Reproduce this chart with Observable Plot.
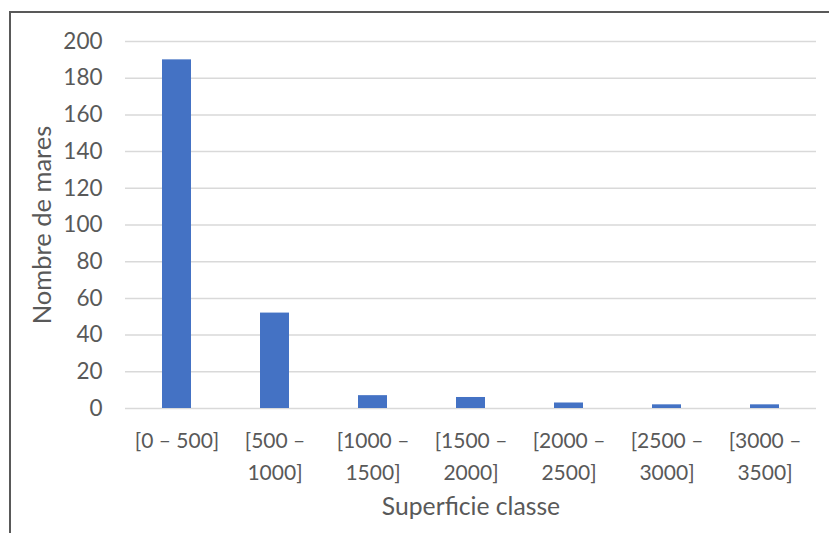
<!DOCTYPE html>
<html>
<head>
<meta charset="utf-8">
<script src="https://cdn.jsdelivr.net/npm/d3@7"></script>
<script src="https://cdn.jsdelivr.net/npm/@observablehq/plot@0.6"></script>
<style>
  html, body { margin: 0; padding: 0; background: #fff; }
  #wrap { position: relative; width: 829px; height: 533px; overflow: hidden; }
  #frame { position: absolute; left: 9px; top: 11px; width: 830px; height: 540px;
           border-left: 2px solid #595959; border-top: 2px solid #595959; }
  #chart { position: absolute; left: 0; top: 0; }
</style>
</head>
<body>
<div id="wrap">
  <div id="frame"></div>
  <div id="chart"></div>
</div>
<script>
const categories = ["[0 – 500]", "[500 – 1000]", "[1000 – 1500]", "[1500 – 2000]", "[2000 – 2500]", "[2500 – 3000]", "[3000 – 3500]"];
const tickLabels = ["[0 – 500]", "[500 –\n1000]", "[1000 –\n1500]", "[1500 –\n2000]", "[2000 –\n2500]", "[2500 –\n3000]", "[3000 –\n3500]"];
const counts = [190, 52, 7, 6, 3, 2, 2];
const yTicks = [0, 20, 40, 60, 80, 100, 120, 140, 160, 180, 200];
const xTitle = "Superficie classe";
const yTitle = "Nombre de mares";

const data = categories.map((c, i) => ({category: c, count: counts[i]}));
const labelOf = new Map(categories.map((c, i) => [c, tickLabels[i]]));

const textColor = "#595959";
const font = "Lato, 'Open Sans', sans-serif";

const plot = Plot.plot({
  width: 829,
  height: 533,
  marginTop: 41,
  marginBottom: 125,
  marginLeft: 125,
  marginRight: 13,
  style: {fontFamily: font, fontSize: "21px", color: textColor, background: "transparent"},
  x: {domain: categories, paddingInner: 0.7, paddingOuter: 0.35, label: null},
  y: {domain: [0, 200], label: null},
  marks: [
    Plot.gridY(yTicks, {stroke: "#d9d9d9", strokeOpacity: 1, strokeWidth: 1.5}),
    Plot.barY(data, {x: "category", y: "count", fill: "#4472C4"}),
    Plot.axisY(yTicks, {tickSize: 0, tickPadding: 23, label: null, fill: textColor, fontSize: 22.5}),
    Plot.axisX({tickSize: 0, tickPadding: 17, label: null, tickFormat: d => labelOf.get(d), lineHeight: 1.52, fill: textColor, fontSize: 21}),
    Plot.text([xTitle], {frameAnchor: "bottom", dy: 106, fill: textColor, fontSize: 24.7}),
    Plot.text([yTitle], {frameAnchor: "left", textAnchor: "middle", dx: -83, rotate: -90, fill: textColor, fontSize: 25.5})
  ]
});
document.getElementById("chart").appendChild(plot);
</script>
</body>
</html>
